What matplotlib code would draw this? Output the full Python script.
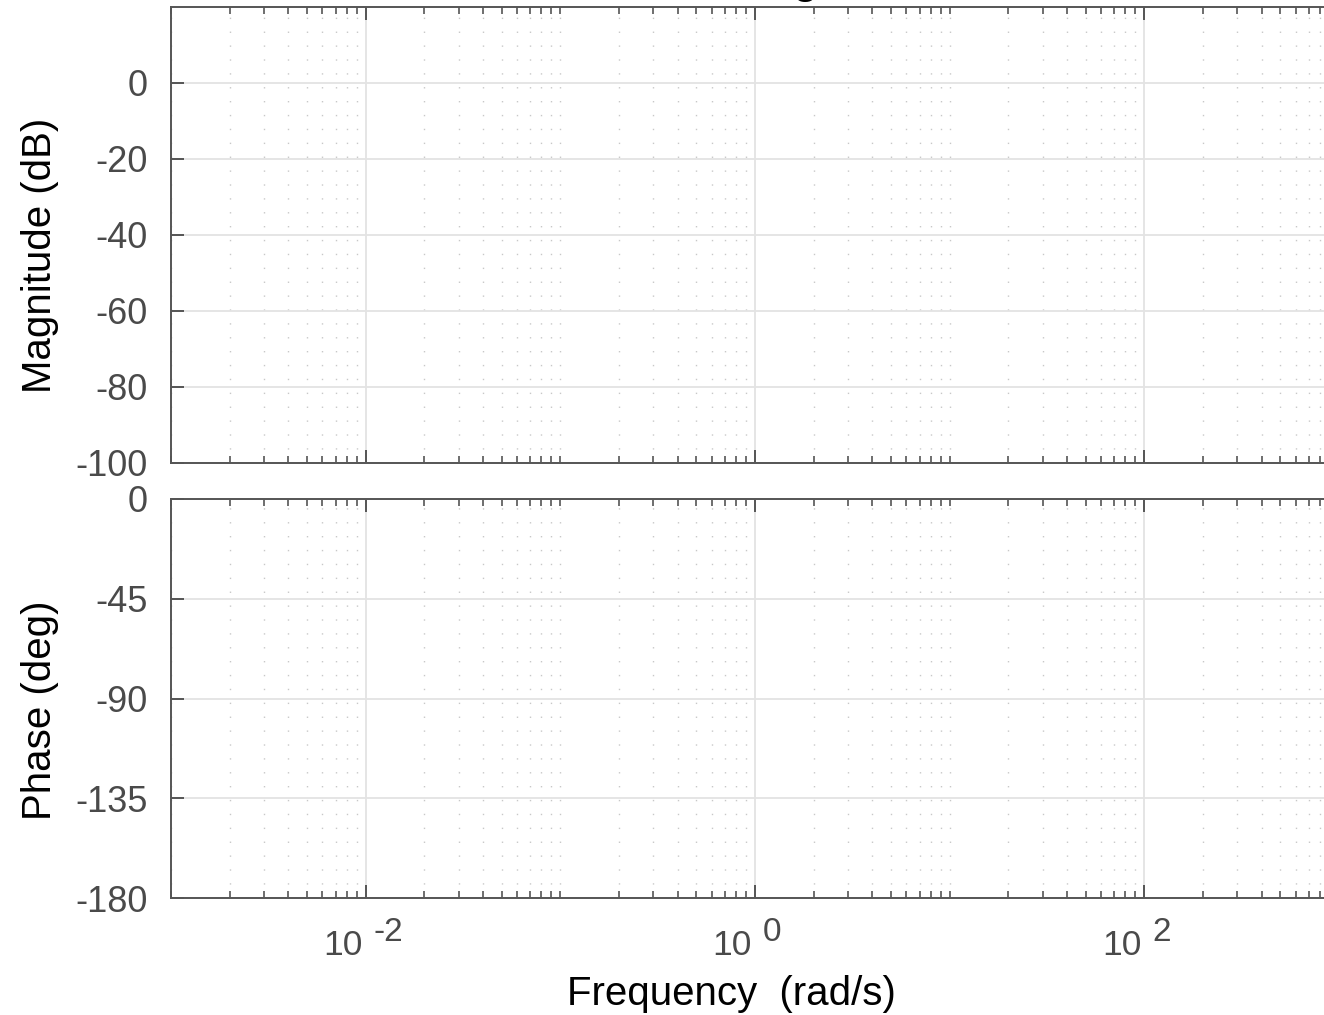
import matplotlib
matplotlib.use('Agg')
import matplotlib.pyplot as plt
from matplotlib.ticker import FixedLocator, FixedFormatter, NullFormatter

plt.rcParams['font.family'] = ['Liberation Sans', 'DejaVu Sans']

# 数据：空的 Bode 图，只保留坐标轴
freq_lim = [1e-3, 1e3]
freq_ticks = [1e-2, 1e0, 1e2]
freq_base = ['10', '10', '10']
freq_exp = ['-2', '0', '2']

mag_lim = [-100, 20]
mag_ticks = [-100, -80, -60, -40, -20, 0]
mag_labels = ['-100', '-80', '-60', '-40', '-20', '0']

phase_lim = [-180, 0]
phase_ticks = [-180, -135, -90, -45, 0]
phase_labels = ['-180', '-135', '-90', '-45', '0']

W, H = 1324, 1015
fig = plt.figure(figsize=(W / 100, H / 100), dpi=100)

spine_c = '#555555'
tick_c = '#4a4a4a'


def fx(px):
    return px / W


def fy(py):
    return 1 - py / H


left = fx(171)
width = fx(1339) - left
ax_mag = fig.add_axes([left, fy(463), width, fy(7) - fy(463)])
ax_ph = fig.add_axes([left, fy(898), width, fy(499) - fy(898)])

# 次刻度：每个十倍频的 1..9 倍，去掉主刻度位置
minor_x = [k * 10.0 ** n for n in range(-3, 3) for k in range(1, 10)] + [1e3]
minor_x = [v for v in minor_x if all(abs(v - t) / t > 1e-9 for t in freq_ticks)]


def style_axis(ax, ylim, yticks, ylabels):
    ax.set_xscale('log')
    ax.set_xlim(freq_lim)
    ax.set_ylim(ylim)
    ax.yaxis.set_major_locator(FixedLocator(yticks))
    ax.yaxis.set_major_formatter(FixedFormatter(ylabels))
    ax.xaxis.set_major_locator(FixedLocator(freq_ticks))
    ax.xaxis.set_minor_locator(FixedLocator(minor_x))
    ax.xaxis.set_major_formatter(NullFormatter())
    ax.xaxis.set_minor_formatter(NullFormatter())
    for s in ax.spines.values():
        s.set_color(spine_c)
        s.set_linewidth(1.4)
    ax.tick_params(which='both', direction='in', top=True, right=True,
                   color=spine_c, labelcolor=tick_c)
    ax.tick_params(which='major', length=9.5, width=1.4)
    ax.tick_params(which='minor', length=5, width=1.2)
    ax.tick_params(axis='y', labelsize=26, pad=17)
    ax.grid(True, which='major', color='#e3e3e3', linewidth=1.3, linestyle='-')
    ax.grid(True, which='minor', axis='x', color='#c8c8c8', linewidth=1.0,
            linestyle=(0, (1, 9)))
    ax.set_axisbelow(True)


style_axis(ax_mag, mag_lim, mag_ticks, mag_labels)
style_axis(ax_ph, phase_lim, phase_ticks, phase_labels)

# 频率刻度标签：10 和上标分开画（和 Octave 的样子一致）
for f, b, e in zip(freq_ticks, freq_base, freq_exp):
    ax_ph.annotate(b, xy=(f, 0), xycoords=('data', 'axes fraction'),
                   xytext=(-3, -57), textcoords='offset pixels',
                   ha='right', va='baseline', fontsize=25.5, color=tick_c)
    ax_ph.annotate(e, xy=(f, 0), xycoords=('data', 'axes fraction'),
                   xytext=(8, -43), textcoords='offset pixels',
                   ha='left', va='baseline', fontsize=24, color=tick_c)

# 坐标轴标题（按参考图位置放）
fig.text(fx(40), fy(255), 'Magnitude (dB)', rotation=90, ha='center', va='center',
         fontsize=29, color='black')
fig.text(fx(40), fy(710), 'Phase (deg)', rotation=90, ha='center', va='center',
         fontsize=29, color='black')
fig.text(fx(731), fy(1005), 'Frequency  (rad/s)', ha='center', va='baseline',
         fontsize=29, color='black')
fig.text(fx(755), fy(-6), 'Bode Diagram', ha='center', va='baseline',
         fontsize=29, fontweight='bold', color='black')

fig.savefig('out.png', dpi=100)
